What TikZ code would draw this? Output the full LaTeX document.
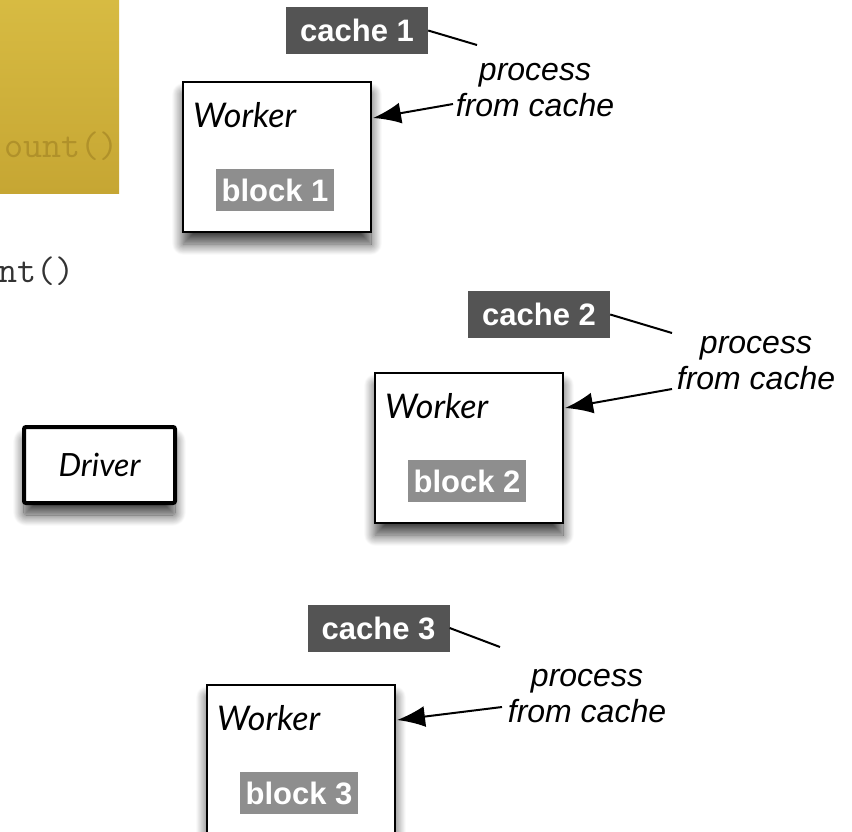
\documentclass[tikz,border=0pt]{standalone}
\usepackage{fontspec}
\setmainfont{Liberation Sans}
\newfontfamily\labelfont{Lato}
\usetikzlibrary{arrows.meta,shadows.blur,calc}

\definecolor{goldtop}{HTML}{D8BC43}
\definecolor{goldbot}{HTML}{C6A633}
\definecolor{goldtext}{HTML}{B0912A}
\definecolor{cachebg}{HTML}{545454}
\definecolor{blockbg}{HTML}{8E8E8E}
\definecolor{codegray}{HTML}{333333}

\tikzset{
  boxshadow/.style={blur shadow={shadow xshift=0pt, shadow yshift=-12pt,
      shadow blur radius=11pt, shadow blur steps=16, shadow opacity=75}},
  worker/.style={draw=black, line width=2pt, fill=white, boxshadow,
    minimum width=188pt, minimum height=150pt, inner sep=0pt, anchor=north west},
  driverbox/.style={draw=black, line width=4pt, fill=white, rounded corners=2pt,
    boxshadow, minimum width=151pt, minimum height=76pt, inner sep=0pt,
    font=\labelfont\itshape\fontsize{32pt}{36pt}\selectfont},
  title/.style={anchor=base west, inner sep=0pt,
    font=\labelfont\itshape\fontsize{34pt}{38pt}\selectfont},
  blocktag/.style={fill=blockbg, text=white, minimum width=118pt, minimum height=42pt,
    inner sep=0pt, font=\bfseries\fontsize{31pt}{36pt}\selectfont},
  cachetag/.style={fill=cachebg, text=white, minimum width=142pt, minimum height=47pt,
    inner sep=0pt, font=\bfseries\fontsize{31pt}{36pt}\selectfont},
  note/.style={align=center, anchor=south, inner sep=0pt,
    font=\itshape\fontsize{32pt}{36pt}\selectfont},
  tie/.style={draw=black, line width=2pt},
  pointer/.style={draw=black, line width=2pt, -{Latex[length=28pt,width=21pt]}},
  codetext/.style={anchor=base east, inner sep=0pt,
    font=\ttfamily\fontsize{37pt}{40pt}\selectfont}
}

\begin{document}
\begin{tikzpicture}[x=1pt, y=-1pt]
  \useasboundingbox (0,0) rectangle (852,831);
  \clip (0,0) rectangle (852,831);

  % code panel and the line of code below it
  \node[anchor=north west, inner sep=0pt, minimum width=129pt, minimum height=203pt,
        top color=goldtop, bottom color=goldbot] (panel) at (-10,-10) {};
  \node[codetext, text=goldtext] (code1) at (119,157) {ount()};
  \node[codetext, text=codegray] (code2) at (75,282) {nt()};

  % driver
  \node[driverbox] (drv) at (99.5,465) {Driver};

  % workers
  \node[worker] (w1) at (182,81) {};
  \node[worker] (w2) at (374,372) {};
  \node[worker] (w3) at (206,684) {};

  \foreach \w/\n in {w1/1, w2/2, w3/3} {
    \node[title] (\w t) at ($(\w.north west)+(11,46)$) {Worker};
    \node[blocktag] (\w b) at ($(\w.north)+(-2,109)$) {block \n};
  }

  % caches
  \node[cachetag] (c1) at (357,30.5) {cache 1};
  \node[cachetag] (c2) at (539,314.5) {cache 2};
  \node[cachetag] (c3) at (378.5,628) {cache 3};

  % notes
  \node[note] (p1) at (535,117) {process\\from cache};
  \node[note] (p2) at (756,390) {process\\from cache};
  \node[note] (p3) at (587,723) {process\\from cache};

  % free ends of the connectors
  \coordinate (t1) at (477,45);
  \coordinate (t2) at (672,333);
  \coordinate (t3) at (500,647);
  \coordinate (a1) at (453,104);
  \coordinate (a2) at (672,389);
  \coordinate (a3) at (502,707);

  \draw[tie] (c1.east) -- (t1);
  \draw[tie] (c2.east) -- (t2);
  \draw[tie] (c3.east) -- (t3);

  \draw[pointer] (a1) -- ($(w1.north east)+(1,37)$);
  \draw[pointer] (a2) -- ($(w2.north east)+(1,36)$);
  \draw[pointer] (a3) -- ($(w3.north east)+(1,36)$);
\end{tikzpicture}
\end{document}
